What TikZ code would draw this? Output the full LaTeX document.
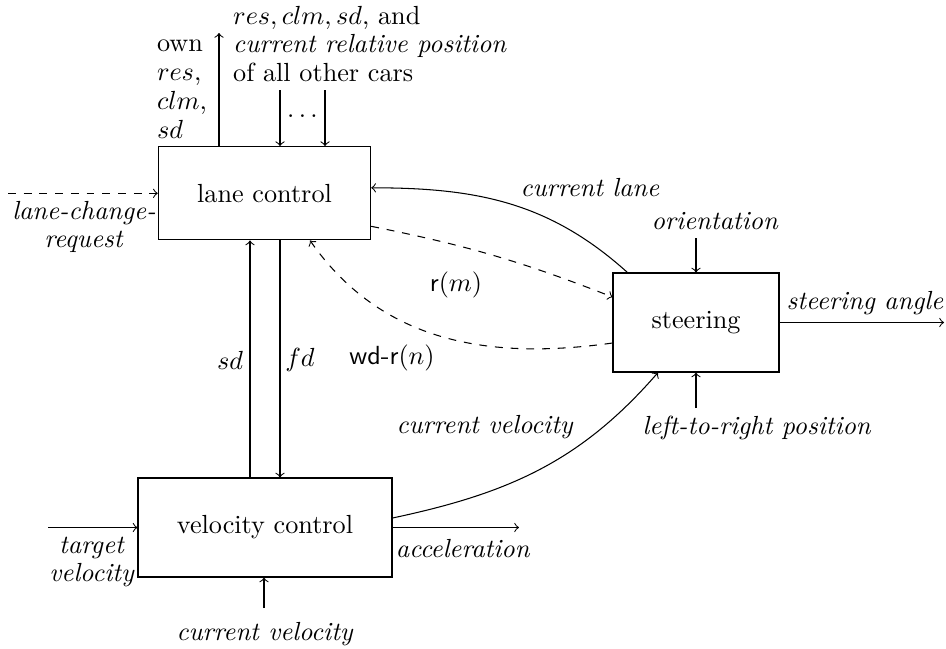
\documentclass[tikz,border=0pt]{standalone}
\usetikzlibrary{arrows}
\newdimen\pxu
\pxu=0.3817pt
\begin{document}
\begin{tikzpicture}[x=\pxu,y=-\pxu,
  block/.style={draw,minimum width=#1,inner sep=0pt},
  lbl/.style={inner sep=0pt},
  multi/.style={inner sep=0pt,align=#1,font=\fontsize{10}{11}\selectfont},
  >=to]
\useasboundingbox (0,0) rectangle (946,648);

% the three controllers
\node[block=212.4\pxu,minimum height=93.3\pxu] (lane) at (264.5,193.3) {lane control};
\node[block=166\pxu,minimum height=99\pxu] (steer) at (696,322.5) {steering};
\node[block=254\pxu,minimum height=99\pxu] (vel) at (265,527.5) {velocity control};

% inputs and outputs of lane control
\coordinate (ownout) at (219,33);
\draw[->] (lane.north -| ownout) -- (ownout);
\node[multi=left] (ownlbl) at (182,89) {own\\$res$,\\$clm$,\\$sd$};
\node[multi=left] (others) at (370,44) {$res, clm, sd$, and\\\textit{current relative position}\\of all other cars};
\coordinate (inA) at (280,90);
\coordinate (inB) at (325,90);
\draw[->] (inA) -- (inA |- lane.north);
\draw[->] (inB) -- (inB |- lane.north);
\node[lbl] (dots) at (302.5,116) {$\dots$};
\coordinate (lcr) at (8,193.3);
\draw[dashed,->] (lcr) -- (lcr -| lane.west);
\node[multi=center] (lcrlbl) at (84,227) {\textit{lane-change-}\\\textit{request}};

% lane control <-> steering
\draw[->] ([xshift=15\pxu]steer.north west) to[out=138,in=0] ([yshift=5.5\pxu]lane.east);
\node[lbl] (curlane) at (590,188) {\textit{current lane}};
\draw[dashed,->] ([yshift=-33\pxu]lane.east) to[bend left=5] ([yshift=25.5\pxu]steer.west);
\node[lbl] (rm) at (456,285) {\textsf{r}$(m)$};
\draw[dashed,->] ([yshift=-20.5\pxu]steer.west) to[out=188,in=-55] ([xshift=45.5\pxu]lane.south);
\node[lbl] (wdr) at (392,358) {\textsf{wd-r}$(n)$};

% lane control <-> velocity control
\coordinate (sdbot) at ([xshift=-15\pxu]vel.north);
\draw[->] (sdbot) -- (sdbot |- lane.south);
\node[lbl] (sdlbl) at (230,360) {$sd$};
\coordinate (fdtop) at ([xshift=15.5\pxu]lane.south);
\draw[->] (fdtop) -- (fdtop |- vel.north);
\node[lbl] (fdlbl) at (300,360) {$fd$};

% steering inputs and output
\coordinate (ori) at (696,238);
\draw[->] (ori) -- (ori |- steer.north);
\node[lbl] (orilbl) at (715,221) {\textit{orientation}};
\coordinate (ltr) at (696,408);
\draw[->] (ltr) -- (ltr |- steer.south);
\node[lbl] (ltrlbl) at (757,428) {\textit{left-to-right position}};
\coordinate (sangle) at (944,322.5);
\draw[->] (steer.east) -- (sangle);
\node[lbl] (sanglbl) at (865,303) {\textit{steering angle}};

% velocity control inputs and outputs
\draw[->] ([yshift=9.5\pxu]vel.east) to[out=12,in=229] ([xshift=-38\pxu]steer.south);
\node[lbl] (curvel) at (485,427) {\textit{current velocity}};
\coordinate (accend) at (519,527.5);
\draw[->] (vel.east) -- (accend);
\node[lbl] (acclbl) at (463,549) {\textit{acceleration}};
\coordinate (tv) at (48,527.5);
\draw[->] (tv) -- (tv -| vel.west);
\node[multi=center] (tvlbl) at (92,562) {\textit{target}\\\textit{velocity}};
\coordinate (cvb) at (264,608);
\draw[->] (cvb) -- (cvb |- vel.south);
\node[lbl] (cvblbl) at (265,634) {\textit{current velocity}};
\end{tikzpicture}
\end{document}
